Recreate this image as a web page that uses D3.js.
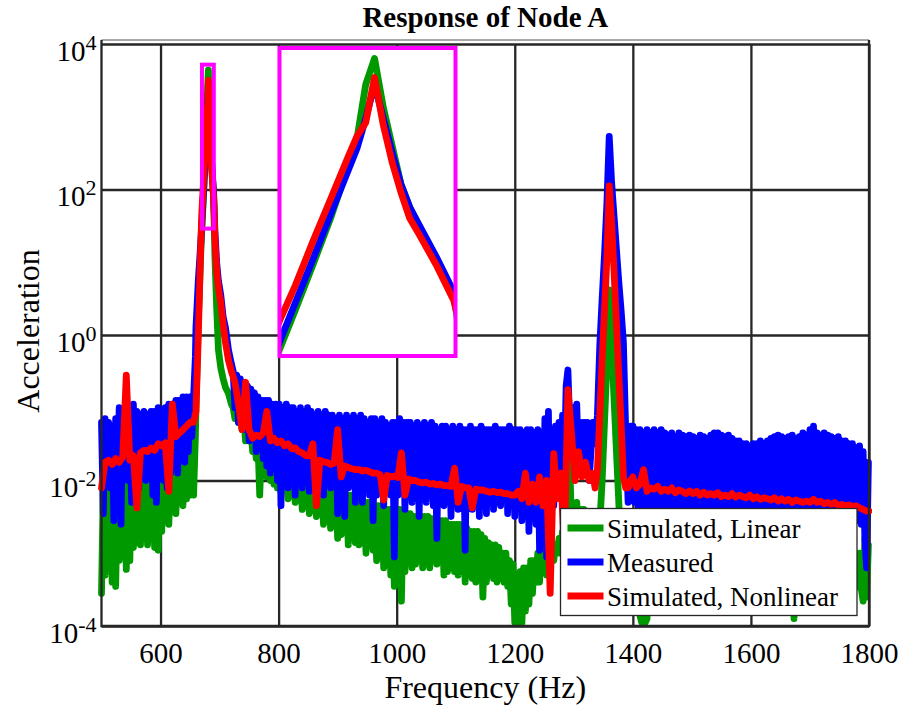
<!DOCTYPE html>
<html>
<head>
<meta charset="utf-8">
<script src="https://cdn.jsdelivr.net/npm/d3@7"></script>
<style>
  body { margin: 0; background: #fff; }
  svg { display: block; }
  svg text { font-family: "Liberation Serif", "Times New Roman", serif; }
</style>
</head>
<body>
<div class="canva"></div>
<script>
// sample points round the two resonances (Hz)
const peak1Hz = [660, 664, 668, 670, 672, 674, 676, 678, 679, 680, 681, 682, 683, 684, 685, 686, 688, 690, 692, 695, 698, 702, 706, 710, 715, 720];
const peak2Hz = [1326, 1332, 1336, 1340, 1344, 1348, 1352, 1356, 1360, 1364, 1368, 1372, 1376, 1380, 1384, 1388, 1392, 1396];

// 3 Hz grid for the two noisy traces, 6 Hz grid for the nonlinear one
const freqFine = [].concat(d3.range(500, 660, 3), peak1Hz, d3.range(723, 1326, 3), peak2Hz, d3.range(1400, 1800, 3));
const freqHz = [].concat(d3.range(500, 660, 6), peak1Hz, d3.range(726, 1326, 6), peak2Hz, d3.range(1400, 1800, 6), [1800]);

// Simulated, Linear (on freqFine)
const simLinear = [
  0.00028, 0.0079, 0.0005, 0.0063, 0.00071, 0.0079, 0.0004, 0.01, 0.00035, 0.0063,
  0.0008, 0.0079, 0.001, 0.01, 0.0006, 0.0089, 0.00079, 0.01, 0.0012, 0.0079,
  0.0014, 0.0112, 0.0013, 0.01, 0.0016, 0.0126, 0.0013, 0.0112, 0.0016, 0.0126,
  0.0012, 0.0126, 0.0011, 0.0141, 0.002, 0.0126, 0.0032, 0.0158, 0.0025, 0.0141,
  0.004, 0.0178, 0.0035, 0.02, 0.005, 0.0224, 0.0045, 0.025, 0.0056, 0.028,
  0.0063, 0.032, 0.0063, 0.04,
  0.1, 1.58, 12.6, 30, 63, 135, 295, 708, 1122, 2818,
  4365, 1905, 1000, 525, 355, 263, 148, 79, 12.6, 2.5,
  0.63, 0.355, 0.25, 0.19, 0.158, 0.112,
  0.1, 0.071, 0.112, 0.063, 0.1, 0.05, 0.079, 0.035, 0.063, 0.04,
  0.05, 0.025, 0.04, 0.02, 0.032, 0.0063, 0.028, 0.0126, 0.025, 0.0112,
  0.02, 0.01, 0.0178, 0.0089, 0.0178, 0.0079, 0.0158, 0.0071, 0.0141, 0.0079,
  0.0141, 0.0056, 0.0126, 0.0063, 0.0126, 0.005, 0.0112, 0.0056, 0.0112, 0.004,
  0.0112, 0.0045, 0.01, 0.0035, 0.01, 0.004, 0.0089, 0.0032, 0.0089, 0.0035,
  0.0079, 0.0025, 0.0079, 0.0028, 0.0079, 0.0022, 0.0071, 0.0025, 0.0071, 0.0016,
  0.0071, 0.0018, 0.0063, 0.002, 0.0063, 0.0013, 0.0063, 0.0016, 0.0056, 0.0014,
  0.0056, 0.0013, 0.0056, 0.0014, 0.005, 0.001, 0.005, 0.0013, 0.005, 0.0011,
  0.0045, 0.00079, 0.0045, 0.001, 0.0045, 0.00063, 0.004, 0.00071, 0.004, 0.0005,
  0.004, 0.00035, 0.004, 0.0005, 0.004, 0.00022, 0.0035, 0.00056, 0.0035, 0.00079,
  0.0035, 0.00063, 0.0032, 0.00071, 0.0032, 0.00079, 0.0032, 0.00063, 0.0032, 0.00071,
  0.0032, 0.00063, 0.003, 0.00079, 0.003, 0.00071, 0.0028, 0.00079, 0.0028, 0.0005,
  0.0028, 0.00056, 0.0025, 0.00063, 0.0025, 0.00056, 0.0025, 0.0005, 0.0025, 0.00056,
  0.0022, 0.0004, 0.0022, 0.0005, 0.002, 0.00045, 0.002, 0.0004, 0.002, 0.0005,
  0.0018, 0.00025, 0.0016, 0.0004, 0.0014, 0.0005, 0.0013, 0.00045, 0.0013, 0.0004,
  0.0012, 0.00045, 0.001, 0.0004, 0.001, 0.00035, 0.00079, 0.0002, 0.00071, 0.000112,
  0.0005, 0.000105, 0.00056, 0.000105, 0.00063, 0.00016, 0.00063, 0.0002, 0.00079, 0.00028,
  0.00079, 0.0004, 0.001, 0.0004, 0.0013, 0.00063, 0.0013, 0.0005, 0.0014, 0.00063,
  0.0014, 0.00079, 0.0013, 0.001, 0.0016, 0.001, 0.002, 0.0013, 0.0016, 0.178,
  0.02, 0.0025, 0.004, 0.0016, 0.005, 0.0016, 0.004, 0.0016, 0.004, 0.002,
  0.0016,
  0.001, 0.0014, 0.00079, 0.0013, 0.0025, 0.01, 0.063, 0.4, 4.17, 0.71,
  0.141, 0.0275, 0.0054, 0.00107, 0.00032, 0.00063, 0.00025, 0.0005,
  0.00032, 0.001, 0.0005, 0.00079, 0.00014, 0.000112, 0.000126, 0.000112, 0.000126, 0.0004,
  0.00079, 0.00032, 0.001, 0.0004, 0.00089, 0.00032, 0.001, 0.00035, 0.00079, 0.00032,
  0.001, 0.0004, 0.00079, 0.00032, 0.001, 0.00035, 0.00089, 0.00032, 0.00079, 0.0004,
  0.001, 0.00032, 0.00089, 0.0004, 0.00079, 0.00032, 0.001, 0.00035, 0.00079, 0.00032,
  0.00089, 0.0004, 0.001, 0.00032, 0.00079, 0.00035, 0.001, 0.00032, 0.00089, 0.0004,
  0.00079, 0.00032, 0.001, 0.00035, 0.00089, 0.00032, 0.00079, 0.0004, 0.001, 0.00032,
  0.00089, 0.00035, 0.00079, 0.00032, 0.001, 0.0004, 0.00079, 0.00032, 0.00089, 0.00035,
  0.001, 0.00032, 0.00079, 0.0004, 0.00089, 0.00032, 0.001, 0.00035, 0.00079, 0.00032,
  0.00089, 0.0004, 0.001, 0.00032, 0.00079, 0.00035, 0.00089, 0.00032, 0.001, 0.0004,
  0.00079, 0.000126, 0.00089, 0.00032, 0.001, 0.00035, 0.00079, 0.00032, 0.00089, 0.0004,
  0.001, 0.00032, 0.00079, 0.00035, 0.00089, 0.00032, 0.001, 0.0004, 0.00079, 0.00032,
  0.00089, 0.00035, 0.001, 0.00032, 0.00079, 0.0004, 0.00089, 0.00032, 0.001, 0.00035,
  0.00079, 0.00032, 0.00089, 0.0004, 0.001, 0.00032, 0.00079, 0.00035, 0.001, 0.00032,
  0.00022, 0.0016, 0.00025, 0.0013
];

// Measured (on freqFine)
const measured = [
  0.063, 0.0035, 0.071, 0.0126, 0.063, 0.0079, 0.056, 0.0028, 0.071, 0.01,
  0.1, 0.0025, 0.089, 0.0126, 0.079, 0.01, 0.079, 0.005, 0.112, 0.0141,
  0.089, 0.0079, 0.079, 0.0141, 0.089, 0.01, 0.079, 0.0158, 0.089, 0.0063,
  0.089, 0.005, 0.1, 0.0126, 0.089, 0.01, 0.1, 0.0079, 0.112, 0.0126,
  0.112, 0.0158, 0.126, 0.0126, 0.126, 0.02, 0.141, 0.0178, 0.141, 0.025,
  0.141, 0.04, 0.141, 0.5,
  1.26, 5.6, 17.8, 34, 71, 148, 316, 661, 955, 1585,
  2818, 1585, 891, 525, 355, 269, 155, 85, 28.2, 10,
  5.6, 3.55, 1.78, 1.26, 0.63, 0.4,
  0.32, 0.1, 0.28, 0.063, 0.25, 0.079, 0.22, 0.05, 0.2, 0.035,
  0.18, 0.04, 0.16, 0.025, 0.141, 0.032, 0.126, 0.02, 0.126, 0.0158,
  0.126, 0.0126, 0.112, 0.0178, 0.112, 0.01, 0.112, 0.0045, 0.1, 0.0126,
  0.112, 0.0079, 0.1, 0.0126, 0.1, 0.0063, 0.089, 0.01, 0.1, 0.0079,
  0.089, 0.01, 0.1, 0.0071, 0.089, 0.0112, 0.079, 0.0063, 0.089, 0.01,
  0.079, 0.0063, 0.089, 0.01, 0.079, 0.0079, 0.079, 0.0126, 0.071, 0.0035,
  0.079, 0.0056, 0.071, 0.0032, 0.079, 0.0079, 0.071, 0.01, 0.079, 0.005,
  0.071, 0.0079, 0.079, 0.005, 0.071, 0.0089, 0.063, 0.0063, 0.071, 0.0028,
  0.071, 0.0063, 0.063, 0.0079, 0.071, 0.0045, 0.063, 0.0071, 0.056, 0.0063,
  0.063, 0.00089, 0.063, 0.0063, 0.071, 0.0079, 0.063, 0.004, 0.063, 0.0063,
  0.063, 0.005, 0.056, 0.0071, 0.063, 0.0032, 0.056, 0.0063, 0.063, 0.005,
  0.056, 0.0063, 0.063, 0.0045, 0.056, 0.0016, 0.05, 0.0063, 0.056, 0.0045,
  0.056, 0.0063, 0.05, 0.0032, 0.056, 0.005, 0.05, 0.004, 0.056, 0.0056,
  0.05, 0.0011, 0.05, 0.005, 0.056, 0.004, 0.05, 0.0063, 0.05, 0.0032,
  0.056, 0.005, 0.05, 0.0035, 0.05, 0.0056, 0.05, 0.004, 0.056, 0.005,
  0.05, 0.0045, 0.05, 0.0056, 0.05, 0.0035, 0.056, 0.005, 0.05, 0.0032,
  0.05, 0.0045, 0.05, 0.0028, 0.045, 0.004, 0.05, 0.002, 0.05, 0.0032,
  0.045, 0.0025, 0.05, 0.0011, 0.045, 0.0016, 0.071, 0.00089, 0.089, 0.00071,
  0.05, 0.0045, 0.056, 0.0063, 0.063, 0.0126, 0.079, 0.0126, 0.2, 0.33,
  0.063, 0.025, 0.1, 0.0126, 0.112, 0.0126, 0.063, 0.02, 0.063, 0.025,
  0.063,
  0.01, 0.063, 0.032, 0.079, 0.71, 3.16, 12.6, 63, 537, 126,
  44.7, 15.8, 5.6, 2.24, 0.79, 0.045, 0.005, 0.056,
  0.056, 0.005, 0.05, 0.004, 0.05, 0.0032, 0.045, 0.004, 0.05, 0.0035,
  0.045, 0.0025, 0.05, 0.004, 0.045, 0.0032, 0.05, 0.0028, 0.045, 0.0035,
  0.042, 0.0032, 0.045, 0.0025, 0.04, 0.0035, 0.045, 0.0028, 0.042, 0.0032,
  0.04, 0.0025, 0.042, 0.0032, 0.04, 0.0028, 0.038, 0.0035, 0.042, 0.0025,
  0.04, 0.0032, 0.038, 0.0028, 0.042, 0.0025, 0.045, 0.0032, 0.045, 0.0028,
  0.042, 0.0025, 0.04, 0.0032, 0.042, 0.0028, 0.038, 0.0025, 0.035, 0.0032,
  0.035, 0.0028, 0.032, 0.0025, 0.032, 0.0032, 0.03, 0.0028, 0.032, 0.0025,
  0.032, 0.0032, 0.035, 0.0028, 0.032, 0.0025, 0.035, 0.0032, 0.038, 0.0028,
  0.04, 0.0025, 0.042, 0.0032, 0.04, 0.0028, 0.038, 0.0025, 0.04, 0.0032,
  0.042, 0.0028, 0.038, 0.0025, 0.04, 0.0032, 0.045, 0.0028, 0.042, 0.0025,
  0.05, 0.0032, 0.056, 0.0028, 0.045, 0.0025, 0.042, 0.0032, 0.045, 0.0028,
  0.042, 0.0025, 0.04, 0.0032, 0.038, 0.0028, 0.04, 0.0025, 0.035, 0.0032,
  0.035, 0.0028, 0.032, 0.0025, 0.032, 0.0032, 0.028, 0.0028, 0.03, 0.0025,
  0.025, 0.0016, 0.00063, 0.0178
];

// Simulated, Nonlinear (on freqHz)
const simNonlinear = [
  0.0079, 0.0178, 0.019, 0.0166, 0.02, 0.0178, 0.021, 0.28, 0.019, 0.022,
  0.0042, 0.024, 0.026, 0.025, 0.028, 0.026, 0.032, 0.030, 0.033, 0.0071,
  0.112, 0.04, 0.045, 0.05, 0.056, 0.063, 0.063,
  0.089, 1, 15.8, 49, 95.5, 200, 407, 832, 1175, 1479,
  3162, 1413, 759, 457, 295, 229, 135, 74, 22.4, 7.9,
  4.5, 2.8, 1.41, 0.79, 0.45, 0.316,
  0.224, 0.112, 0.05, 0.224, 0.05, 0.038, 0.042, 0.04, 0.045, 0.089,
  0.035, 0.038, 0.033, 0.035, 0.030, 0.032, 0.0275, 0.028, 0.025, 0.024,
  0.022, 0.0219, 0.032, 0.0045, 0.019, 0.018, 0.0178, 0.0166, 0.0174, 0.05,
  0.0112, 0.0158, 0.0151, 0.0145, 0.0141, 0.0141, 0.0135, 0.0138, 0.0132, 0.0126,
  0.0126, 0.012, 0.0054, 0.0117, 0.0112, 0.0115, 0.011, 0.024, 0.0063, 0.0105,
  0.01, 0.01, 0.0095, 0.0093, 0.0095, 0.0089, 0.0091, 0.0087, 0.0089, 0.0085,
  0.0085, 0.0083, 0.0148, 0.005, 0.0083, 0.0079, 0.0079, 0.0042, 0.0076, 0.0074,
  0.0074, 0.0071, 0.0069, 0.0071, 0.0068, 0.0069, 0.0066, 0.0066, 0.0063, 0.0063,
  0.0071, 0.0056, 0.0126, 0.005, 0.0089, 0.005, 0.0112, 0.0045, 0.01, 0.00028,
  0.0234, 0.0056, 0.0126, 0.001, 0.178, 0.045, 0.01, 0.025, 0.0112, 0.0178,
  0.01, 0.0126, 0.0079, 0.0141, 0.079, 0.45, 2.24, 11.2, 112, 35.5,
  7.9, 1.58, 0.316, 0.063, 0.0112, 0.0079, 0.0079, 0.01,
  0.0112, 0.0079, 0.0089, 0.0141, 0.0071, 0.0079, 0.0076, 0.0083, 0.0071, 0.0076,
  0.0071, 0.0079, 0.0068, 0.0074, 0.0071, 0.0066, 0.0072, 0.0066, 0.0071, 0.0063,
  0.0069, 0.0063, 0.0066, 0.0063, 0.0068, 0.006, 0.0063, 0.006, 0.0066, 0.0059,
  0.0063, 0.006, 0.0058, 0.0063, 0.0056, 0.006, 0.0055, 0.0058, 0.0056, 0.0054,
  0.0058, 0.0052, 0.0056, 0.0052, 0.0055, 0.005, 0.0054, 0.0052, 0.005, 0.0052,
  0.005, 0.0055, 0.005, 0.0052, 0.0048, 0.005, 0.0047, 0.005, 0.0045, 0.0047,
  0.0045, 0.0046, 0.0044, 0.0045, 0.0042, 0.004, 0.0038, 0.0038
];

const seriesNames = ['Simulated, Linear', 'Measured', 'Simulated, Nonlinear'];
const seriesColors = ['#009900', '#0000ff', '#ff0000'];
const seriesValues = [simLinear, measured, simNonlinear];
const seriesFreq = [freqFine, freqFine, freqHz];

const xTicks = [600, 800, 1000, 1200, 1400, 1600, 1800];
const yTicks = [1e-4, 1e-2, 1, 1e2, 1e4];
const yTickExp = ['-4', '-2', '0', '2', '4'];

// zoom window shown in the inset
const insetFreq = [670.2, 690.2];
const insetAcc = [29, 5200];

seriesValues.forEach((s, i) => {
  if (s.length !== seriesFreq[i].length) throw new Error(seriesNames[i] + ' has ' + s.length + ' values, grid has ' + seriesFreq[i].length);
});

const W = 901, H = 706;
const pL = 101.5, pR = 869, pT = 44, pB = 626;
const lw = 6.8;
const serif = '"Liberation Serif", "Times New Roman", serif';

const svg = d3.select('.canva').append('svg')
  .attr('width', W)
  .attr('height', H);

const x = d3.scaleLinear().domain([500, 1800]).range([pL, pR]);
const y = d3.scaleLog().domain([1e-4, 1e4]).range([pB, pT]);

//grid + tick labels
const gx = svg.append('g')
  .attr('transform', `translate(0,${pB})`)
  .call(d3.axisBottom(x).tickValues(xTicks).tickSizeInner(-(pB - pT)).tickSizeOuter(0).tickPadding(16).tickFormat(d3.format('d')));
gx.attr('font-family', serif).attr('font-size', null);
gx.select('.domain').remove();
gx.selectAll('line').attr('stroke', '#262626').attr('stroke-width', 2.3);
gx.selectAll('text').attr('font-size', 29).attr('fill', '#000');

const gy = svg.append('g')
  .attr('transform', `translate(${pL},0)`)
  .call(d3.axisLeft(y).tickValues(yTicks).tickSizeInner(-(pR - pL)).tickSizeOuter(0).tickFormat(() => ''));
gy.attr('font-family', serif).attr('font-size', null);
gy.select('.domain').remove();
gy.selectAll('line').attr('stroke', '#262626').attr('stroke-width', 2.3);
gy.selectAll('.tick text').each(function(d) {
  const t = d3.select(this)
    .attr('x', -5).attr('dy', 16).attr('text-anchor', 'end').attr('fill', '#000');
  t.append('tspan').attr('font-size', 29).text('10');
  t.append('tspan').attr('font-size', 22).attr('dy', -11).text(yTickExp[yTicks.indexOf(d)]);
});

// data lines
svg.append('clipPath').attr('id', 'plotClip')
  .append('rect').attr('x', pL - 6).attr('y', 38).attr('width', pR - pL + 9).attr('height', pB - 38);

const line = d3.line().x(d => x(d[0])).y(d => y(d[1]));
const plot = svg.append('g').attr('clip-path', 'url(#plotClip)');
seriesValues.forEach((s, i) => {
  plot.append('path')
    .datum(d3.zip(seriesFreq[i], s))
    .attr('d', line)
    .attr('fill', 'none')
    .attr('stroke', seriesColors[i])
    .attr('stroke-width', lw)
    .attr('stroke-linejoin', 'round')
    .attr('stroke-linecap', 'round');
});

// axes box
svg.append('line').attr('x1', pL).attr('x2', pR).attr('y1', 40).attr('y2', 40)
  .attr('stroke', '#8c8c8c').attr('stroke-width', 1.5);
svg.append('path')
  .attr('d', `M${pL},40V${pB}H${pR}V40`)
  .attr('fill', 'none').attr('stroke', '#262626').attr('stroke-width', 2.3);

// magenta marker round the first peak
svg.append('rect')
  .attr('x', x(insetFreq[0])).attr('y', y(insetAcc[1]))
  .attr('width', x(insetFreq[1]) - x(insetFreq[0]))
  .attr('height', y(insetAcc[0]) - y(insetAcc[1]))
  .attr('fill', 'none').attr('stroke', '#ff00ff').attr('stroke-width', 4);

// inset
const xi = d3.scaleLinear().domain(insetFreq).range([279.5, 455.5]);
const yi = d3.scaleLog().domain(insetAcc).range([356, 48]);
svg.append('clipPath').attr('id', 'insetClip')
  .append('rect').attr('x', 279.5).attr('y', 48).attr('width', 176).attr('height', 308);
svg.append('rect').attr('x', 279.5).attr('y', 48).attr('width', 176).attr('height', 308).attr('fill', '#fff');
const lineIn = d3.line().x(d => xi(d[0])).y(d => yi(d[1]));
const inset = svg.append('g').attr('clip-path', 'url(#insetClip)');
seriesValues.forEach((s, i) => {
  inset.append('path')
    .datum(d3.zip(seriesFreq[i], s).filter(d => d[0] >= 668 && d[0] <= 692))
    .attr('d', lineIn)
    .attr('fill', 'none')
    .attr('stroke', seriesColors[i])
    .attr('stroke-width', lw)
    .attr('stroke-linejoin', 'round')
    .attr('stroke-linecap', 'round');
});
svg.append('rect').attr('x', 279.5).attr('y', 48).attr('width', 176).attr('height', 308)
  .attr('fill', 'none').attr('stroke', '#ff00ff').attr('stroke-width', 4);

// legend
const lg = svg.append('g').attr('transform', 'translate(560.5,508.5)');
lg.append('rect').attr('width', 296.5).attr('height', 107)
  .attr('fill', '#fff').attr('stroke', '#262626').attr('stroke-width', 1.3);
seriesNames.forEach((name, i) => {
  const row = lg.append('g').attr('transform', `translate(0,${19.5 + i * 34})`);
  row.append('line').attr('x1', 7).attr('x2', 43).attr('y1', 0).attr('y2', 0)
    .attr('stroke', seriesColors[i]).attr('stroke-width', lw);
  row.append('text').attr('x', 46.5).attr('y', 10)
    .attr('font-family', serif).attr('font-size', 27).text(name);
});

// titles
svg.append('text').attr('x', (pL + pR) / 2).attr('y', 27)
  .attr('text-anchor', 'middle').attr('font-family', serif)
  .attr('font-size', 29).attr('font-weight', 'bold')
  .text('Response of Node A');
svg.append('text').attr('x', (pL + pR) / 2).attr('y', 698)
  .attr('text-anchor', 'middle').attr('font-family', serif).attr('font-size', 32)
  .text('Frequency (Hz)');
svg.append('text')
  .attr('transform', 'translate(39,331) rotate(-90)')
  .attr('text-anchor', 'middle').attr('font-family', serif).attr('font-size', 32)
  .text('Acceleration');
</script>
</body>
</html>
